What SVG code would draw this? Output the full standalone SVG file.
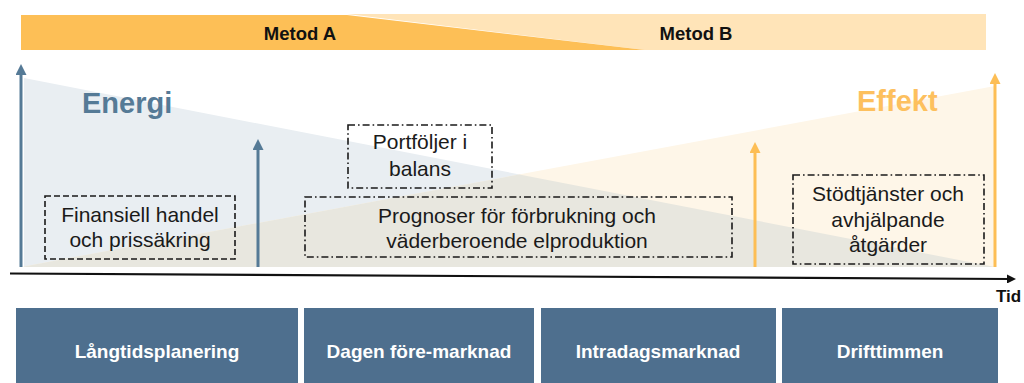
<svg xmlns="http://www.w3.org/2000/svg" width="1024" height="383" viewBox="0 0 1024 383">
  <defs>
    <style>
      .lbl { font-family: "Liberation Sans", Arial, sans-serif; font-size: 21px; fill: #1a1a1a; text-anchor: middle; }
      .hdr { font-family: "Liberation Sans", Arial, sans-serif; font-size: 18.5px; font-weight: bold; fill: #111; text-anchor: middle; }
      .phase { font-family: "Liberation Sans", Arial, sans-serif; font-size: 19px; font-weight: bold; fill: #ffffff; text-anchor: middle; }
      .big { font-family: "Liberation Sans", Arial, sans-serif; font-size: 29px; font-weight: bold; }
      .dash { fill: none; stroke: #1a1a1a; stroke-width: 1.6; stroke-dasharray: 6 3; }
      .dashdot { fill: none; stroke: #1a1a1a; stroke-width: 1.6; stroke-dasharray: 7 3 1.6 3; }
      .phasebox { fill: #4E6F8E; }
      .barrow { stroke: #557A96; stroke-width: 3; fill: none; }
      .oarrow { stroke: #FDBE55; stroke-width: 3; fill: none; }
    </style>
    <marker id="mBlue" markerUnits="userSpaceOnUse" markerWidth="11" markerHeight="11" viewBox="0 0 11 11" refX="4" refY="5.5" orient="auto">
      <path d="M0,0 L11,5.5 L0,11 z" fill="#557A96"/>
    </marker>
    <marker id="mOrange" markerUnits="userSpaceOnUse" markerWidth="11" markerHeight="11" viewBox="0 0 11 11" refX="4" refY="5.5" orient="auto">
      <path d="M0,0 L11,5.5 L0,11 z" fill="#FDBE55"/>
    </marker>
    <marker id="mBlack" markerUnits="userSpaceOnUse" markerWidth="9" markerHeight="9" viewBox="0 0 9 9" refX="3" refY="4.5" orient="auto">
      <path d="M0,0 L9,4.5 L0,9 z" fill="#111"/>
    </marker>
  </defs>

  <rect width="1024" height="383" fill="#ffffff"/>

  <!-- method bar -->
  <g id="method-bar">
    <polygon points="347,14 986,14 986,50 645,50" fill="#FFE4B8"/>
    <polygon points="21,15 347,15 645,50 21,50" fill="#FDBF56"/>
    <text class="hdr" x="300" y="40">Metod A</text>
    <text class="hdr" x="696" y="40">Metod B</text>
  </g>

  <!-- background triangles -->
  <g id="background">
    <polygon points="24,78 24,267 995,267" fill="#E9EEF2"/>
    <polygon points="21,267 995,86 995,267" fill="#FEF6E8"/>
    <polygon points="24,266.4 519.3,174.4 995,267 24,267" fill="#E8E7DF"/>
  </g>

  <g id="energi">
    <text class="big" x="82" y="113" fill="#557A96">Energi</text>
  </g>
  <g id="effekt">
    <text class="big" x="857" y="111" fill="#FDC05E">Effekt</text>
  </g>

  <!-- connectors / arrows -->
  <g id="connectors">
    <line class="barrow" x1="21" y1="267" x2="21" y2="71" marker-end="url(#mBlue)"/>
    <line class="barrow" x1="258" y1="267" x2="258" y2="146" marker-end="url(#mBlue)"/>
    <line class="oarrow" x1="755" y1="267" x2="755" y2="149" marker-end="url(#mOrange)"/>
    <line class="oarrow" x1="995" y1="267" x2="995" y2="80" marker-end="url(#mOrange)"/>
    <line x1="10" y1="273.5" x2="1010" y2="279" stroke="#111" stroke-width="2.2" marker-end="url(#mBlack)"/>
  </g>

  <g id="tid">
    <text x="996" y="302" font-family="'Liberation Sans', Arial, sans-serif" font-size="17" font-weight="bold" fill="#111">Tid</text>
  </g>

  <!-- dashed label boxes -->
  <g id="finansiell">
    <rect class="dash" x="45" y="196" width="190" height="63"/>
    <text class="lbl" x="140" y="222">Finansiell handel</text>
    <text class="lbl" x="140" y="247">och prissäkring</text>
  </g>
  <g id="portfoljer">
    <rect class="dashdot" x="348" y="125" width="144" height="63"/>
    <text class="lbl" x="420" y="149">Portföljer i</text>
    <text class="lbl" x="420" y="176">balans</text>
  </g>
  <g id="prognoser">
    <rect class="dashdot" x="305" y="197" width="427" height="60"/>
    <text class="lbl" x="517" y="223">Prognoser för förbrukning och</text>
    <text class="lbl" x="517" y="248">väderberoende elproduktion</text>
  </g>
  <g id="stodtjanster">
    <rect class="dashdot" x="793" y="175" width="191" height="89"/>
    <text class="lbl" x="888" y="201">Stödtjänster och</text>
    <text class="lbl" x="888" y="227">avhjälpande</text>
    <text class="lbl" x="888" y="252">åtgärder</text>
  </g>

  <!-- phases -->
  <g id="phase-langtid">
    <rect class="phasebox" x="16" y="308" width="282" height="75"/>
    <text class="phase" x="157" y="358">Långtidsplanering</text>
  </g>
  <g id="phase-dagen">
    <rect class="phasebox" x="304" y="308" width="230" height="75"/>
    <text class="phase" x="419" y="358">Dagen före-marknad</text>
  </g>
  <g id="phase-intradag">
    <rect class="phasebox" x="541" y="308" width="235" height="75"/>
    <text class="phase" x="658" y="358">Intradagsmarknad</text>
  </g>
  <g id="phase-drift">
    <rect class="phasebox" x="782" y="308" width="216" height="75"/>
    <text class="phase" x="890" y="358">Drifttimmen</text>
  </g>
</svg>
